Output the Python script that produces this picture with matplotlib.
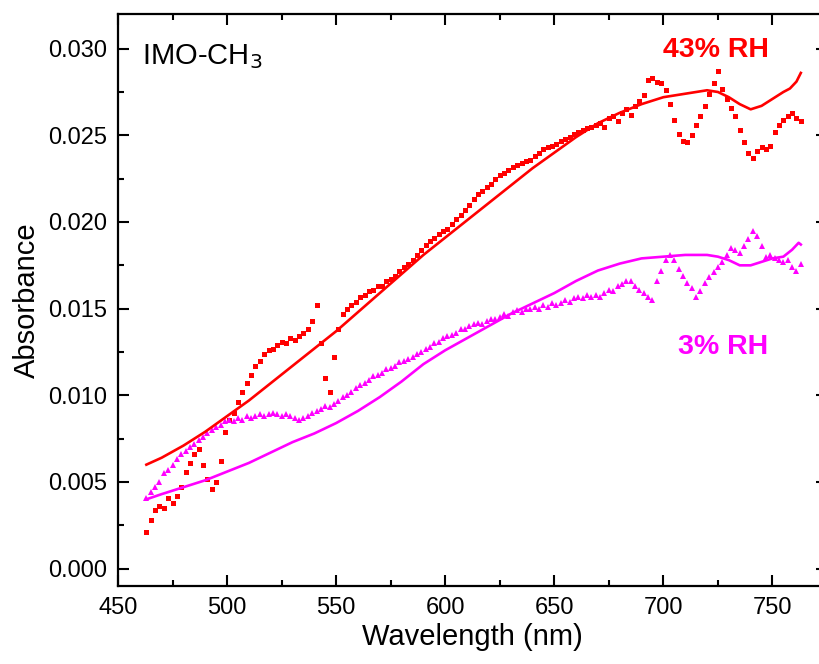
import numpy as np
import matplotlib
matplotlib.use('Agg')
import matplotlib.pyplot as plt
from matplotlib.ticker import MultipleLocator, FormatStrFormatter

plt.rcParams['font.family'] = ['Liberation Sans', 'DejaVu Sans']

# ─── data: measured spectra, sampled every 2 nm ────────────────────
wl = np.arange(463, 764, 2)

abs_43 = [
    0.0021, 0.0028, 0.0034, 0.0036, 0.0035, 0.0041, 0.0038, 0.0042, 0.0047, 0.0056,
    0.0061, 0.0066, 0.0069, 0.0060, 0.0052, 0.0046, 0.0050, 0.0062, 0.0079, 0.0086,
    0.0090, 0.0096, 0.0102, 0.0107, 0.0112, 0.0117, 0.0120, 0.0124, 0.0126, 0.0127,
    0.0129, 0.0131, 0.0130, 0.0133, 0.0132, 0.0134, 0.0136, 0.0138, 0.0143, 0.0152,
    0.0130, 0.0110, 0.0102, 0.0122, 0.0138, 0.0147, 0.0150, 0.0152, 0.0154, 0.0157,
    0.0158, 0.0160, 0.0161, 0.0163, 0.0163, 0.0166, 0.0167, 0.0169, 0.0172, 0.0174,
    0.0176, 0.0178, 0.0181, 0.0184, 0.0187, 0.0189, 0.0191, 0.0193, 0.0195, 0.0196,
    0.0199, 0.0202, 0.0204, 0.0207, 0.0210, 0.0213, 0.0216, 0.0218, 0.0220, 0.0222,
    0.0225, 0.0227, 0.0228, 0.0230, 0.0232, 0.0233, 0.0234, 0.0235, 0.0236, 0.0238,
    0.0240, 0.0242, 0.0243, 0.0244, 0.0245, 0.0247, 0.0248, 0.0249, 0.0251, 0.0252,
    0.0253, 0.0254, 0.0255, 0.0256, 0.0257, 0.0255, 0.0260, 0.0261, 0.0258, 0.0263,
    0.0265, 0.0262, 0.0267, 0.0270, 0.0273, 0.0282, 0.0283, 0.0281, 0.0280, 0.0276,
    0.0268, 0.0259, 0.0251, 0.0247, 0.0246, 0.0250, 0.0256, 0.0261, 0.0267, 0.0274,
    0.0280, 0.0287, 0.0277, 0.0271, 0.0266, 0.0261, 0.0253, 0.0246, 0.0240, 0.0237,
    0.0241, 0.0243, 0.0242, 0.0244, 0.0252, 0.0256, 0.0259, 0.0261, 0.0263, 0.0260,
    0.0258,
]

abs_3 = [
    0.0041, 0.0044, 0.0047, 0.0050, 0.0055, 0.0057, 0.0060, 0.0063, 0.0066, 0.0068,
    0.0070, 0.0072, 0.0074, 0.0076, 0.0078, 0.0080, 0.0082, 0.0083, 0.0085, 0.0086,
    0.0085, 0.0087, 0.0086, 0.0088, 0.0087, 0.0088, 0.0089, 0.0088, 0.0089, 0.0090,
    0.0089, 0.0088, 0.0089, 0.0088, 0.0087, 0.0086, 0.0087, 0.0088, 0.0090, 0.0091,
    0.0092, 0.0094, 0.0093, 0.0095, 0.0097, 0.0099, 0.0100, 0.0102, 0.0104, 0.0106,
    0.0107, 0.0109, 0.0111, 0.0112, 0.0113, 0.0115, 0.0116, 0.0117, 0.0119, 0.0120,
    0.0121, 0.0122, 0.0124, 0.0125, 0.0127, 0.0128, 0.0130, 0.0131, 0.0133, 0.0134,
    0.0135, 0.0136, 0.0138, 0.0138, 0.0140, 0.0141, 0.0142, 0.0141, 0.0143, 0.0144,
    0.0144, 0.0145, 0.0147, 0.0146, 0.0148, 0.0149, 0.0148, 0.0150, 0.0150, 0.0151,
    0.0150, 0.0152, 0.0151, 0.0153, 0.0152, 0.0153, 0.0155, 0.0154, 0.0156, 0.0157,
    0.0156, 0.0158, 0.0157, 0.0158, 0.0157, 0.0159, 0.0161, 0.0160, 0.0163, 0.0164,
    0.0166, 0.0166, 0.0163, 0.0161, 0.0159, 0.0157, 0.0155, 0.0166, 0.0172, 0.0178,
    0.0181, 0.0178, 0.0173, 0.0169, 0.0165, 0.0162, 0.0157, 0.0160, 0.0165, 0.0168,
    0.0171, 0.0174, 0.0177, 0.0181, 0.0185, 0.0184, 0.0182, 0.0186, 0.0190, 0.0195,
    0.0192, 0.0186, 0.0180, 0.0181, 0.0179, 0.0178, 0.0177, 0.0178, 0.0174, 0.0172,
    0.0176,
]

# ─── fitted curves ─────────────────────────────────────────────────
fit_wl_43 = [463, 470, 480, 490, 500, 510, 520, 530, 540, 550, 560, 570, 580, 590,
             600, 610, 620, 630, 640, 650, 660, 670, 680, 690, 700, 710, 715, 720,
             725, 730, 735, 740, 745, 750, 755, 758, 761, 763]
fit_43 = [0.0060, 0.0064, 0.0071, 0.0079, 0.0088, 0.0097, 0.0107, 0.0117, 0.0127,
          0.0137, 0.0148, 0.0159, 0.0170, 0.0181, 0.0191, 0.0201, 0.0211, 0.0221,
          0.0231, 0.0240, 0.0249, 0.0257, 0.0263, 0.0268, 0.0272, 0.0274, 0.0275,
          0.0276, 0.0275, 0.0272, 0.0268, 0.0265, 0.0267, 0.0271, 0.0275, 0.0277,
          0.0281, 0.0286]

fit_wl_3 = [463, 470, 480, 490, 500, 510, 520, 530, 540, 550, 560, 570, 580, 590,
            600, 610, 620, 630, 640, 650, 660, 670, 680, 690, 700, 710, 720, 725,
            730, 735, 740, 745, 750, 755, 759, 762, 763]
fit_3 = [0.0040, 0.0043, 0.0047, 0.0051, 0.0056, 0.0061, 0.0067, 0.0073, 0.0078,
         0.0084, 0.0091, 0.0099, 0.0108, 0.0118, 0.0126, 0.0133, 0.0140, 0.0147,
         0.0153, 0.0159, 0.0166, 0.0172, 0.0176, 0.0179, 0.0180, 0.0181, 0.0181,
         0.0180, 0.0178, 0.0175, 0.0175, 0.0177, 0.0179, 0.0180, 0.0184, 0.0188,
         0.0187]

RED = '#ff0000'
MAGENTA = '#ff00ff'

# ─── figure ────────────────────────────────────────────────────────
fig = plt.figure(figsize=(8.19, 6.64), dpi=100)
ax = fig.add_axes([118 / 819, 1 - 586 / 664, (827 - 118) / 819, (586 - 14) / 664])

ax.plot(wl, abs_43, 's', color=RED, ms=3.6, mew=0, zorder=3)
ax.plot(fit_wl_43, fit_43, '-', color=RED, lw=1.9, zorder=4)
ax.plot(wl, abs_3, '^', color=MAGENTA, ms=5, mew=0, zorder=3)
ax.plot(fit_wl_3, fit_3, '-', color=MAGENTA, lw=1.9, zorder=4)

ax.set_xlim(450, 775)
ax.set_ylim(-0.001, 0.032)
ax.xaxis.set_major_locator(MultipleLocator(50))
ax.xaxis.set_minor_locator(MultipleLocator(25))
ax.yaxis.set_major_locator(MultipleLocator(0.005))
ax.yaxis.set_minor_locator(MultipleLocator(0.0025))
ax.yaxis.set_major_formatter(FormatStrFormatter('%.3f'))

ax.tick_params(which='both', direction='in', top=True, right=True, width=1.5,
               labelsize=17, colors='black')
ax.tick_params(which='major', length=8, pad=8)
ax.tick_params(which='minor', length=4.5)
for spine in ax.spines.values():
    spine.set_linewidth(1.6)

ax.set_xlabel('Wavelength (nm)', fontsize=21, labelpad=3)
ax.set_ylabel('Absorbance', fontsize=21, labelpad=5)

ax.text(461, 0.0291, 'IMO-CH$_3$', fontsize=21, va='baseline', ha='left')
ax.text(724, 0.0295, '43% RH', fontsize=20.5, fontweight='bold', color=RED,
        ha='center', va='baseline')
ax.text(727.5, 0.0124, '3% RH', fontsize=20.5, fontweight='bold', color=MAGENTA,
        ha='center', va='baseline')

fig.savefig('out.png', dpi=100)
plt.close(fig)
